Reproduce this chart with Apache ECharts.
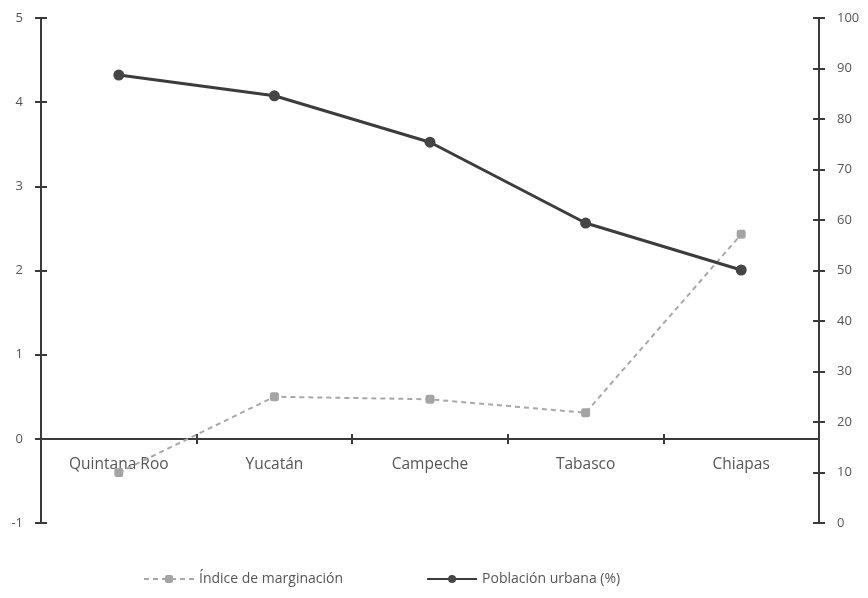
<!DOCTYPE html>
<html><head><meta charset="utf-8">
<script src="https://cdn.jsdelivr.net/npm/echarts@6/dist/echarts.min.js"></script>
<style>html,body{margin:0;padding:0;background:#fff}#c{width:868px;height:598px}</style>
</head><body><div id="c"></div>
<script>
var categories = ['Quintana Roo', 'Yucatán', 'Campeche', 'Tabasco', 'Chiapas'];
var indiceMarginacion = [-0.40, 0.50, 0.47, 0.31, 2.43];
var poblacionUrbana = [88.7, 84.6, 75.4, 59.4, 50.1];
var leftTicks = [-1, 0, 1, 2, 3, 4, 5];
var rightTicks = [0, 10, 20, 30, 40, 50, 60, 70, 80, 90, 100];

var chart = echarts.init(document.getElementById('c'), null, {renderer: 'canvas'});
var font = 'Open Sans';
var axisColor = '#3a3a3a';
var gridTop = 18, gridBottom = 75, H = 598;
var plotH = H - gridTop - gridBottom;
var zeroOffset = -Math.round(plotH * (0 - leftTicks[0]) / (leftTicks[leftTicks.length - 1] - leftTicks[0]));
var gridBox = {left: 41, right: 49, top: gridTop, bottom: gridBottom, containLabel: false};
function yAx(grid, pos, ticks, interval, inside, showLabel) {
  return {
    gridIndex: grid, type: 'value', position: pos, min: ticks[0], max: ticks[ticks.length - 1], interval: interval,
    splitLine: {show: false},
    axisLine: {show: true, lineStyle: {color: axisColor, width: 2}},
    axisTick: {show: true, inside: inside, length: 6, lineStyle: {color: axisColor, width: 2}},
    axisLabel: {show: showLabel, margin: 18, color: '#555', fontFamily: font, fontSize: 13}
  };
}
function xAx(grid, inside, showLabel) {
  return {
    gridIndex: grid, type: 'category', data: categories, boundaryGap: true, position: 'bottom', offset: zeroOffset,
    axisLine: {show: true, onZero: false, lineStyle: {color: axisColor, width: 2}},
    axisTick: {show: true, inside: inside, length: 5, lineStyle: {color: axisColor, width: 2}},
    axisLabel: {show: showLabel, margin: 18, color: '#555', fontFamily: font, fontSize: 15.5}
  };
}
var hidden = {type: 'line', xAxisIndex: 1, showSymbol: false, silent: true, z: 0,
  lineStyle: {opacity: 0}, itemStyle: {opacity: 0}, tooltip: {show: false}};
chart.setOption({
  backgroundColor: '#fff',
  animation: false,
  grid: [gridBox, Object.assign({}, gridBox)],
  legend: {
    bottom: 7, left: 138, itemGap: 83, itemWidth: 50, itemHeight: 10,
    textStyle: {color: '#555', fontFamily: font, fontSize: 14},
    data: ['Índice de marginación', 'Población urbana (%)']
  },
  xAxis: [xAx(0, false, true), xAx(1, true, false)],
  yAxis: [
    yAx(0, 'left', leftTicks, 1, false, true),
    yAx(0, 'right', rightTicks, 10, false, true),
    yAx(1, 'left', leftTicks, 1, true, false),
    yAx(1, 'right', rightTicks, 10, true, false)
  ],
  series: [
    Object.assign({name: 'ticks-a', yAxisIndex: 2, data: indiceMarginacion}, hidden),
    Object.assign({name: 'ticks-b', yAxisIndex: 3, data: poblacionUrbana}, hidden),
  {
    name: 'Índice de marginación', type: 'line', xAxisIndex: 0, yAxisIndex: 0, data: indiceMarginacion,
    symbol: 'roundRect', symbolSize: 9, z: 3,
    lineStyle: {color: '#a8a8a8', width: 2, type: [5, 4]},
    itemStyle: {color: '#a4a4a4'}
  }, {
    name: 'Población urbana (%)', type: 'line', xAxisIndex: 0, yAxisIndex: 1, data: poblacionUrbana,
    symbol: 'circle', symbolSize: 11, z: 4,
    lineStyle: {color: '#3c3c3c', width: 3},
    itemStyle: {color: '#454545'}
  }]
});
</script></body></html>
